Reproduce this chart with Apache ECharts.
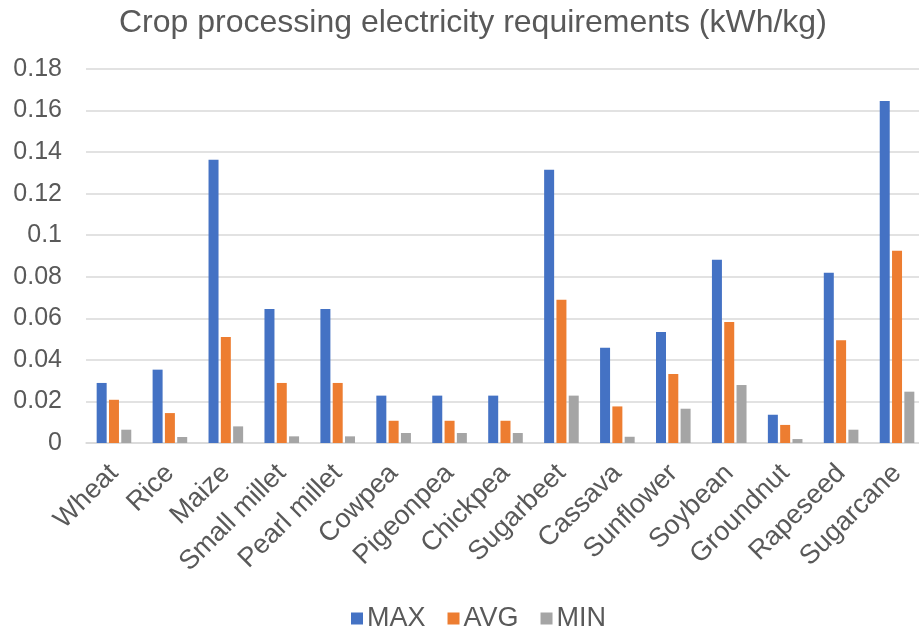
<!DOCTYPE html>
<html><head><meta charset="utf-8">
<script src="https://cdn.jsdelivr.net/npm/echarts@6/dist/echarts.min.js"></script>
<style>html,body{margin:0;padding:0;background:#fff;overflow:hidden}#c{width:925px;height:633px}</style>
</head><body><div id="c"></div>
<script>
const categories = ["Wheat","Rice","Maize","Small millet","Pearl millet","Cowpea","Pigeonpea","Chickpea","Sugarbeet","Cassava","Sunflower","Soybean","Groundnut","Rapeseed","Sugarcane"];
const maxVals = [0.0289,0.0353,0.1363,0.0645,0.0645,0.0228,0.0228,0.0228,0.1315,0.0458,0.0534,0.0882,0.0136,0.0819,0.1646];
const avgVals = [0.0208,0.0144,0.0510,0.0289,0.0289,0.0107,0.0107,0.0107,0.0689,0.0176,0.0332,0.0582,0.0087,0.0495,0.0925];
const minVals = [0.0064,0.0029,0.0080,0.0032,0.0032,0.0048,0.0048,0.0048,0.0228,0.0030,0.0165,0.0279,0.0019,0.0064,0.0247];
const yTicks = [0,0.02,0.04,0.06,0.08,0.1,0.12,0.14,0.16,0.18];

const font = "Liberation Sans";
const chart = echarts.init(document.getElementById('c'));
chart.setOption({
  animation:false,
  title:{text:"Crop processing electricity requirements (kWh/kg)",left:114,top:2,
    textStyle:{fontFamily:font,fontSize:32,fontWeight:'normal',color:'#595959'}},
  legend:{top:600,left:346,itemWidth:12,itemHeight:12,itemGap:22,icon:'rect',
    textStyle:{fontFamily:font,fontSize:27,color:'#595959',padding:[0,0,0,-1]},
    data:['MAX','AVG','MIN']},
  grid:{left:86,right:0,top:69,bottom:190,containLabel:false},
  xAxis:{type:'category',data:categories,
    axisLine:{lineStyle:{color:'#d9d9d9',width:1.5}},axisTick:{show:false},
    axisLabel:{rotate:45,fontFamily:font,fontSize:27,color:'#595959',margin:26,interval:0}},
  yAxis:{type:'value',min:0,max:0.18,interval:0.02,
    axisLine:{show:false},axisTick:{show:false},
    splitLine:{lineStyle:{color:'#d9d9d9',width:1.5}},
    axisLabel:{fontFamily:font,fontSize:25,color:'#595959',margin:24,
      formatter:v=>{const t=yTicks.find(x=>Math.abs(x-v)<1e-9);return String(+((t!==undefined?t:v).toFixed(2)));}}},
  series:[
    {name:'MAX',type:'bar',data:maxVals,barWidth:10,barGap:'23%',itemStyle:{color:'#4472C4'}},
    {name:'AVG',type:'bar',data:avgVals,barWidth:10,barGap:'23%',itemStyle:{color:'#ED7D31'}},
    {name:'MIN',type:'bar',data:minVals,barWidth:10,barGap:'23%',itemStyle:{color:'#A5A5A5'}}
  ]
});
</script></body></html>
